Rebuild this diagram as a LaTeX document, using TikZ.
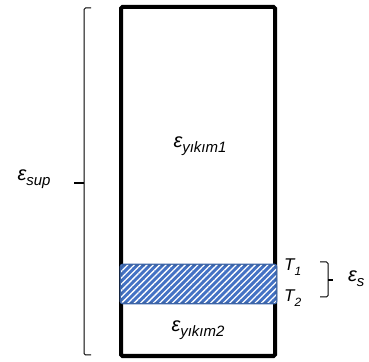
\documentclass[tikz,border=0pt]{standalone}
\usepackage{fontspec}
\setmainfont{Liberation Sans}
\usetikzlibrary{patterns.meta}

\definecolor{layerblue}{HTML}{4472C4}
\definecolor{layeredge}{HTML}{3B64A8}
\newcommand{\lowidx}[2][15]{\raisebox{-0.5ex}{\fontsize{#1}{#1}\selectfont#2}}
\newcommand{\epsname}[1]{\textit{\fontsize{20}{22}\selectfont ε\lowidx{#1}}}

\begin{document}
\begin{tikzpicture}[x=1pt, y=1pt, every node/.style={font=\fontsize{17}{19}\selectfont\itshape, inner sep=0pt},
  column/.style={draw, line width=4pt, rounded corners=1.5pt},
  layer/.style={draw=layeredge, line width=2.8pt, rounded corners=2pt, fill=layerblue,
    postaction={pattern={Lines[angle=45, distance=4.5pt, line width=1.3pt]}, pattern color=white}},
  bracket/.style={line width=1pt, rounded corners=1.5pt}]
  \useasboundingbox (0,0) rectangle (369,361);

  % column and the hatched layer
  \draw[column] (121,5) rectangle (275,354);
  \draw[layer] (121,58) rectangle (276,96);

  % labels inside
  \node (yk1) at (200,215) {\epsname{yıkım1}};
  \node (yk2) at (198,31) {\epsname{yıkım2}};

  % layer borders
  \node[anchor=west] (t1) at (284,94) {T\lowidx[12]{1}};
  \node[anchor=west] (t2) at (284,63) {T\lowidx[12]{2}};

  % left bracket
  \coordinate (supbot) at (91,6);
  \coordinate (suptop) at (91,353);
  \coordinate (suptip) at (74,178);
  \draw[bracket] (suptop) -- (84,353) -- (84,178) -- (84,6) -- (supbot);
  \draw[line width=1.2pt] (84,178) -- (suptip);
  \node (sup) at (34,182) {\epsname{sup}};

  % right bracket
  \coordinate (stop) at (320,99);
  \coordinate (sbot) at (320,64);
  \coordinate (stip) at (333,81);
  \draw[bracket] (stop) -- (328,99) -- (328,64) -- (sbot);
  \draw[line width=1.2pt] (328,81) -- (stip);
  \node[anchor=west] (s) at (348,82) {\epsname{s}};
\end{tikzpicture}
\end{document}
